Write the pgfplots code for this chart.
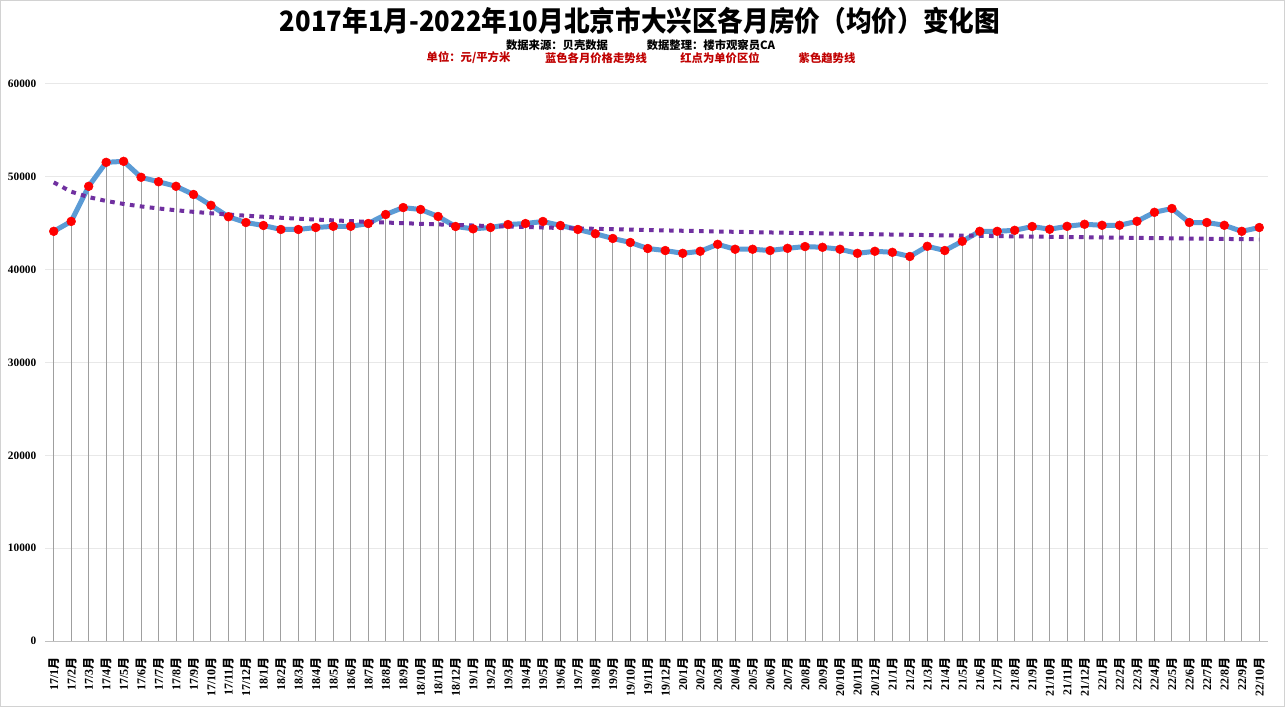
\documentclass[border=0pt]{standalone}
\usepackage{pgfplots}
\pgfplotsset{compat=1.18}
\usepackage{fontspec}
\setmainfont{Liberation Serif}
\newfontfamily\cjk{Noto Sans CJK SC}
\newcommand\yue{{\cjk 月}}
\definecolor{lineblue}{HTML}{5B9BD5}
\definecolor{trendpurple}{HTML}{7030A0}
\definecolor{subred}{HTML}{C00000}
\pgfplotstableread{
x y
0 44130
1 45200
2 48980
3 51560
4 51670
5 49950
6 49470
7 48980
8 48100
9 46930
10 45700
11 45080
12 44760
13 44330
14 44330
15 44540
16 44670
17 44670
18 44970
19 45940
20 46690
21 46480
22 45730
23 44650
24 44400
25 44540
26 44860
27 44970
28 45190
29 44760
30 44330
31 43870
32 43360
33 42930
34 42280
35 42060
36 41760
37 41980
38 42730
39 42200
40 42200
41 42060
42 42300
43 42490
44 42410
45 42200
46 41760
47 41980
48 41870
49 41420
50 42520
51 42060
52 43060
53 44130
54 44130
55 44240
56 44650
57 44350
58 44670
59 44890
60 44780
61 44780
62 45210
63 46180
64 46590
65 45080
66 45080
67 44780
68 44130
69 44540
}\pricedata
\pgfplotstableread{
x y
0 49400
1 48400
2 47815
3 47400
4 47078
5 46814
6 46592
7 46399
8 46229
9 46077
10 45940
11 45814
12 45699
13 45592
14 45492
15 45399
16 45312
17 45229
18 45151
19 45077
20 45007
21 44940
22 44875
23 44814
24 44755
25 44699
26 44644
27 44592
28 44541
29 44492
30 44445
31 44399
32 44355
33 44311
34 44270
35 44229
36 44190
37 44151
38 44113
39 44077
40 44041
41 44007
42 43973
43 43939
44 43907
45 43875
46 43844
47 43814
48 43784
49 43755
50 43726
51 43698
52 43671
53 43644
54 43617
55 43591
56 43566
57 43541
58 43516
59 43492
60 43468
61 43445
62 43422
63 43399
64 43376
65 43354
66 43333
67 43311
68 43290
69 43270
}\trenddata
\begin{document}
\begin{tikzpicture}
\path[use as bounding box] (0pt,0pt) rectangle (963.75pt,530.25pt);
\fill[white] (0pt,0pt) rectangle (963.75pt,530.25pt);
\draw[gray!35, line width=0.75pt] (0.5pt,0.5pt) rectangle (963.25pt,529.75pt);
\begin{axis}[
  at={(33.75pt,49.5pt)}, anchor=south west,
  scale only axis, width=917.25pt, height=417.75pt,
  xmin=-0.5, xmax=69.5, ymin=0, ymax=60000,
  axis line style={draw=none},
  tick style={draw=none},
  ytick={0,10000,20000,30000,40000,50000,60000},
  scaled y ticks=false,
  /pgf/number format/assume math mode=true,
  /pgf/number format/1000 sep={},
  yticklabel style={font=\bfseries\fontsize{8.5}{9}\selectfont, xshift=-3pt},
  ymajorgrids, major grid style={draw=gray!18, line width=0.75pt},
  xtick={0,...,69},
  xticklabels={17/1\yue,17/2\yue,17/3\yue,17/4\yue,17/5\yue,17/6\yue,17/7\yue,17/8\yue,17/9\yue,17/10\yue,17/11\yue,17/12\yue,
    18/1\yue,18/2\yue,18/3\yue,18/4\yue,18/5\yue,18/6\yue,18/7\yue,18/8\yue,18/9\yue,18/10\yue,18/11\yue,18/12\yue,
    19/1\yue,19/2\yue,19/3\yue,19/4\yue,19/5\yue,19/6\yue,19/7\yue,19/8\yue,19/9\yue,19/10\yue,19/11\yue,19/12\yue,
    20/1\yue,20/2\yue,20/3\yue,20/4\yue,20/5\yue,20/6\yue,20/7\yue,20/8\yue,20/9\yue,20/10\yue,20/11\yue,20/12\yue,
    21/1\yue,21/2\yue,21/3\yue,21/4\yue,21/5\yue,21/6\yue,21/7\yue,21/8\yue,21/9\yue,21/10\yue,21/11\yue,21/12\yue,
    22/1\yue,22/2\yue,22/3\yue,22/4\yue,22/5\yue,22/6\yue,22/7\yue,22/8\yue,22/9\yue,22/10\yue},
  xticklabel style={font=\bfseries\fontsize{9}{10}\selectfont, yshift=-8.5pt, rotate=90, anchor=east},
  clip=false,
]
\draw[gray!50, line width=0.75pt] (axis cs:-0.5,0) -- (axis cs:69.5,0);
\addplot[ycomb, draw=gray!75, line width=0.75pt, mark=none] table[x=x,y=y] {\pricedata};
\addplot[lineblue, line width=3.75pt, mark=none, line join=round] table[x=x,y=y] {\pricedata};
\addplot[trendpurple, line width=3pt, dash pattern=on 3.5pt off 4pt, mark=none] table[x=x,y=y] {\trenddata};
\addplot[only marks, mark=*, mark size=3.3pt, mark options={fill=red, draw=red}] table[x=x,y=y] {\pricedata};
\end{axis}
\node at (480pt,514.5pt) {\resizebox{540pt}{\height}{\cjk\bfseries\fontsize{21}{21}\selectfont 2017年1月-2022年10月北京市大兴区各月房价（均价）变化图}};
\node[font=\cjk\bfseries\fontsize{8.5}{9}\selectfont] at (417.75pt,496.5pt) {数据来源：贝壳数据};
\node[font=\cjk\bfseries\fontsize{8.5}{9}\selectfont] at (533.25pt,496.5pt) {数据整理：楼市观察员CA};
\node[font=\cjk\bfseries\fontsize{8.5}{9}\selectfont, text=subred] at (351.4pt,486.75pt) {单位：元/平方米};
\node[font=\cjk\bfseries\fontsize{8.5}{9}\selectfont, text=subred] at (447pt,486.75pt) {蓝色各月价格走势线};
\node[font=\cjk\bfseries\fontsize{8.5}{9}\selectfont, text=subred] at (540pt,486.75pt) {红点为单价区位};
\node[font=\cjk\bfseries\fontsize{8.5}{9}\selectfont, text=subred] at (620.25pt,486.75pt) {紫色趋势线};
\end{tikzpicture}
\end{document}
